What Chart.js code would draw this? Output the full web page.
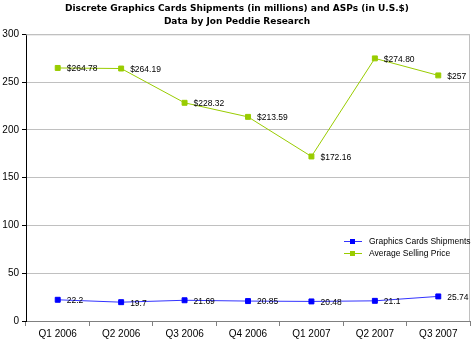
<!DOCTYPE html>
<html>
<head>
<meta charset="UTF-8">
<title>Discrete Graphics Cards</title>
<script src="https://cdn.jsdelivr.net/npm/chart.js"></script>
<style>
  html, body { margin: 0; padding: 0; background: #fff; }
  #wrap { width: 475px; height: 342px; }
</style>
</head>
<body>
<div id="wrap"><canvas id="c" width="475" height="342"></canvas></div>
<script>
const quarters = ['Q1 2006', 'Q2 2006', 'Q3 2006', 'Q4 2006', 'Q1 2007', 'Q2 2007', 'Q3 2007'];
const shipments = [22.2, 19.7, 21.69, 20.85, 20.48, 21.1, 25.74];
const shipmentLabels = ['22.2', '19.7', '21.69', '20.85', '20.48', '21.1', '25.74'];
const asp = [264.78, 264.19, 228.32, 213.59, 172.16, 274.80, 257];
const aspLabels = ['$264.78', '$264.19', '$228.32', '$213.59', '$172.16', '$274.80', '$257'];

// value labels to the right of each point
const pointLabels = {
  id: 'pointLabels',
  afterDatasetsDraw(chart) {
    const ctx = chart.ctx;
    ctx.save();
    ctx.font = '8.5px "Liberation Sans", Arial, sans-serif';
    ctx.fillStyle = '#000';
    ctx.textBaseline = 'middle';
    chart.data.datasets.forEach((ds, i) => {
      chart.getDatasetMeta(i).data.forEach((pt, j) => {
        ctx.fillText(ds.valueLabels[j], pt.x + 9, pt.y + 1);
      });
    });
    ctx.restore();
  }
};

// plot frame + legend inside the plot
const frameLegend = {
  id: 'frameLegend',
  beforeDatasetsDraw(chart) {
    const a = chart.chartArea, ctx = chart.ctx;
    ctx.save();
    ctx.strokeStyle = '#c0c0c0';
    ctx.lineWidth = 1;
    ctx.beginPath();
    ctx.moveTo(a.left, a.top + 0.5);
    ctx.lineTo(a.right - 0.5, a.top + 0.5);
    ctx.lineTo(a.right - 0.5, a.bottom);
    ctx.stroke();
    ctx.restore();
  },
  afterDraw(chart) {
    const ctx = chart.ctx;
    const x = 344, y0 = 241;
    ctx.save();
    ctx.font = '8.5px "Liberation Sans", Arial, sans-serif';
    ctx.textBaseline = 'middle';
    chart.data.datasets.forEach((ds, i) => {
      const y = y0 + i * 12;
      ctx.strokeStyle = ds.borderColor;
      ctx.lineWidth = 1;
      ctx.beginPath();
      ctx.moveTo(x, y + 0.5);
      ctx.lineTo(x + 18, y + 0.5);
      ctx.stroke();
      ctx.fillStyle = ds.pointBackgroundColor;
      ctx.fillRect(x + 6, y - 2, 5, 5);
      ctx.fillStyle = '#000';
      ctx.fillText(ds.label, x + 25, y + 1);
    });
    ctx.restore();
  }
};

new Chart(document.getElementById('c'), {
  type: 'line',
  data: {
    labels: quarters,
    datasets: [
      {
        label: 'Graphics Cards Shipments',
        data: shipments,
        valueLabels: shipmentLabels,
        borderColor: '#3333ff',
        borderWidth: 1,
        pointStyle: 'rect',
        pointRadius: 3.5,
        pointBackgroundColor: '#0000ff',
        pointBorderColor: '#0000ff',
        tension: 0
      },
      {
        label: 'Average Selling Price',
        data: asp,
        valueLabels: aspLabels,
        borderColor: '#99cc00',
        borderWidth: 1,
        pointStyle: 'rect',
        pointRadius: 3.5,
        pointBackgroundColor: '#99cc00',
        pointBorderColor: '#99cc00',
        tension: 0
      }
    ]
  },
  options: {
    responsive: false,
    animation: false,
    layout: { padding: { left: 0, right: 1, top: 0, bottom: 0 } },
    plugins: {
      legend: { display: false },
      tooltip: { enabled: false },
      title: {
        display: true,
        text: ['Discrete Graphics Cards Shipments (in millions) and ASPs (in U.S.$)', 'Data by Jon Peddie Research'],
        font: { family: '"DejaVu Sans", sans-serif', size: 9, weight: 'bold', lineHeight: 1.35 },
        color: '#000',
        padding: { top: 3, bottom: 7 }
      }
    },
    scales: {
      x: {
        offset: true,
        grid: { offset: true, drawOnChartArea: false, color: '#808080', tickLength: 5 },
        border: { color: '#808080' },
        ticks: { color: '#000', font: { family: '"Liberation Sans", Arial, sans-serif', size: 10 }, padding: 2, maxRotation: 0 }
      },
      y: {
        min: 0,
        max: 300,
        afterFit(s) { s.width = 26; },
        ticks: { stepSize: 50, color: '#000', font: { family: '"Liberation Sans", Arial, sans-serif', size: 10 }, padding: 3 },
        grid: { color: '#c0c0c0', tickLength: 4, tickColor: '#000' },
        border: { color: '#000' }
      }
    }
  },
  plugins: [pointLabels, frameLegend]
});
</script>
</body>
</html>
